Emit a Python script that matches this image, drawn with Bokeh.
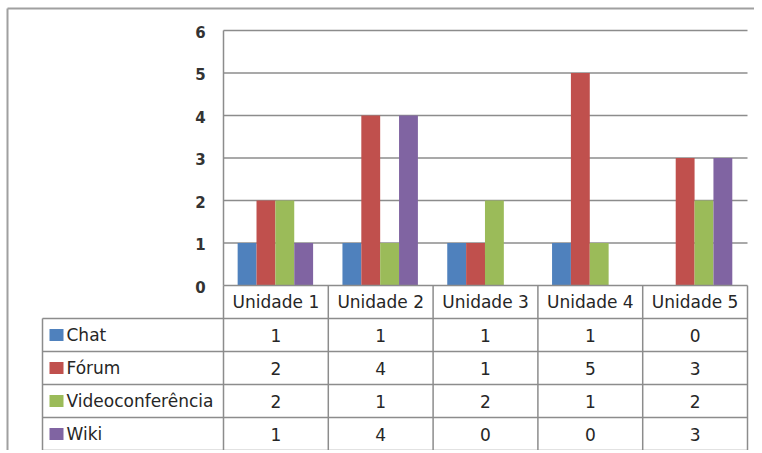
from bokeh.plotting import figure
from bokeh.embed import file_html
from bokeh.resources import INLINE
from bokeh.core.properties import value

# ---------------- data ----------------
categories = ["Unidade 1", "Unidade 2", "Unidade 3", "Unidade 4", "Unidade 5"]
series_names = ["Chat", "Fórum", "Videoconferência", "Wiki"]
chat = [1, 1, 1, 1, 0]
forum = [2, 4, 1, 5, 3]
video = [2, 1, 2, 1, 2]
wiki = [1, 4, 0, 0, 3]
series_values = [chat, forum, video, wiki]
colors = ["#4F81BD", "#C0504D", "#9BBB59", "#8064A2"]
y_ticks = [0, 1, 2, 3, 4, 5, 6]

# ---------------- layout (pixel measurements -> data units) ----------------
W, H = 754, 450
PX_PER_X = 104.8      # one category
PX_PER_Y = 42.5       # one value unit
X0_PX = 223           # plot-area left, relative to figure
Y0_PX = 285           # value 0, relative to figure top
x_start = -X0_PX / PX_PER_X
x_end = (W - X0_PX) / PX_PER_X
y_end = Y0_PX / PX_PER_Y
y_start = -(H - Y0_PX) / PX_PER_Y
row_h = 33 / PX_PER_Y
table_left = (42 - X0_PX) / PX_PER_X
border_x = (7 - X0_PX) / PX_PER_X
border_y = (Y0_PX - 8) / PX_PER_Y
n = len(categories)

group_offset = 0.135
bar_w = 0.18

p = figure(width=W, height=H, x_range=(x_start, x_end), y_range=(y_start, y_end),
           output_backend="svg", toolbar_location=None,
           x_axis_location=None, y_axis_location=None, min_border=0)
p.outline_line_color = None
p.xgrid.visible = False
p.ygrid.visible = False
p.background_fill_color = "white"
p.border_fill_color = "white"

font = value("DejaVu Sans")
txt_color = "#262626"
line_color = "#8C8C8C"

# outer chart border (top & left)
p.segment(x0=[border_x, border_x], y0=[border_y, border_y], x1=[x_end, border_x], y1=[border_y, y_start],
          line_color="#A0A0A0", line_width=2)

# gridlines
p.segment(x0=[0] * (len(y_ticks) - 1), x1=[n] * (len(y_ticks) - 1),
          y0=y_ticks[1:], y1=y_ticks[1:], line_color=line_color, line_width=1.5)
# vertical axis line
p.segment(x0=[0], x1=[0], y0=[0], y1=[max(y_ticks)], line_color=line_color, line_width=1.5)

# bars
for j, vals in enumerate(series_values):
    xs = [i + group_offset + (j + 0.5) * bar_w for i in range(n)]
    p.vbar(x=xs, top=vals, bottom=0, width=bar_w, fill_color=colors[j], line_color=None)

# y tick labels
p.text(x=[-0.17] * len(y_ticks), y=y_ticks, text=[str(t) for t in y_ticks],
       text_align="right", text_baseline="middle", y_offset=1,
       text_font=font, text_font_size=value("15px"), text_font_style="bold",
       text_color="#333333")

# ---------- data table ----------
nrows = len(series_names)
# horizontal lines
p.segment(x0=[0], x1=[n], y0=[0], y1=[0], line_color=line_color, line_width=1.5)
hy = [-(k + 1) * row_h for k in range(nrows + 1)]
p.segment(x0=[table_left] * len(hy), x1=[n] * len(hy), y0=hy, y1=hy,
          line_color=line_color, line_width=1.5)
# vertical lines
p.segment(x0=list(range(n + 1)), x1=list(range(n + 1)), y0=[0] * (n + 1),
          y1=[-(nrows + 1) * row_h] * (n + 1), line_color=line_color, line_width=1.5)
p.segment(x0=[table_left], x1=[table_left], y0=[-row_h], y1=[-(nrows + 1) * row_h],
          line_color=line_color, line_width=1.5)

# header (categories)
p.text(x=[i + 0.5 for i in range(n)], y=[-0.5 * row_h] * n, text=categories,
       text_align="center", text_baseline="middle", text_font=font,
       text_font_size=value("17px"), text_color=txt_color)

# legend keys + series names
ky = [-(k + 1.5) * row_h for k in range(nrows)]
p.rect(x=[table_left + 14 / PX_PER_X] * nrows, y=ky, width=14, height=12,
       width_units="screen", height_units="screen", fill_color=colors, line_color=None)
p.text(x=[table_left + 24 / PX_PER_X] * nrows, y=ky, text=series_names,
       text_align="left", text_baseline="middle", text_font=font,
       text_font_size=value("17px"), text_color=txt_color)

# values
for k, vals in enumerate(series_values):
    p.text(x=[i + 0.5 for i in range(n)], y=[ky[k]] * n, text=[str(v) for v in vals],
           text_align="center", text_baseline="middle", text_font=font,
           text_font_size=value("17px"), text_color=txt_color)

open("out.html", "w").write(file_html(p, INLINE))
